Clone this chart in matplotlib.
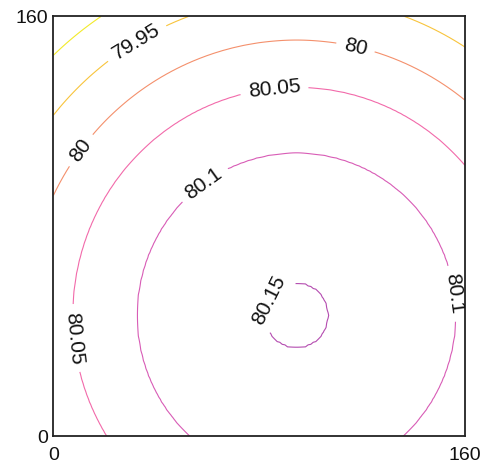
import numpy as np
import matplotlib
matplotlib.use('Agg')
import matplotlib.pyplot as plt

plt.rcParams['font.family'] = ['Liberation Sans', 'DejaVu Sans']

# values
levels = [79.9, 79.95, 80.0, 80.05, 80.1, 80.15]
level_colors = ['#f2ea2a', '#f8c43c', '#f4906c', '#f26aaa', '#d85cb6', '#b44cb0']

# peak location and radial profile (radius of each ring, value on it)
peak_x, peak_y = 94.5, 46.0
ring_radius = [0.0, 12.5, 62.0, 87.0, 105.0, 121.5, 137.0, 153.0]
ring_value = [80.152, 80.15, 80.1, 80.05, 80.0, 79.95, 79.9, 79.85]

# where the inline labels sit
label_pos = [(32.9, 149.1), (9.5, 109.8), (117.2, 147.2), (86.1, 130.1),
             (9.5, 37.4), (58.9, 95.7), (154.2, 54.0), (83.4, 51.9)]

x = np.arange(0, 161)
y = np.arange(0, 161)
X, Y = np.meshgrid(x, y)
R = np.hypot(X - peak_x, Y - peak_y)
Z = np.interp(R, ring_radius, ring_value)

fig = plt.figure(figsize=(4.9, 4.7), dpi=100)
ax = fig.add_axes([0.109, 0.0723, 0.84, 0.8927])

# outermost ring has no label, draw it on its own
ax.contour(X, Y, Z, levels=levels[:1], colors=level_colors[:1], linewidths=0.8)
cs = ax.contour(X, Y, Z, levels=levels[1:], colors=level_colors[1:], linewidths=0.8)
ax.clabel(cs, fmt='%g', fontsize=15, colors='#111111',
          manual=label_pos, inline=True, inline_spacing=8)

ax.set_xlim(0, 160)
ax.set_ylim(0, 160)
ax.set_xticks([0, 160])
ax.set_yticks([0, 160])
ax.tick_params(length=0, labelsize=14, colors='#111111')
ax.tick_params(axis='x', pad=8)
ax.tick_params(axis='y', pad=4)
for s in ax.spines.values():
    s.set_color('#222222')
    s.set_linewidth(1.3)

plt.savefig('out.png', dpi=100)
